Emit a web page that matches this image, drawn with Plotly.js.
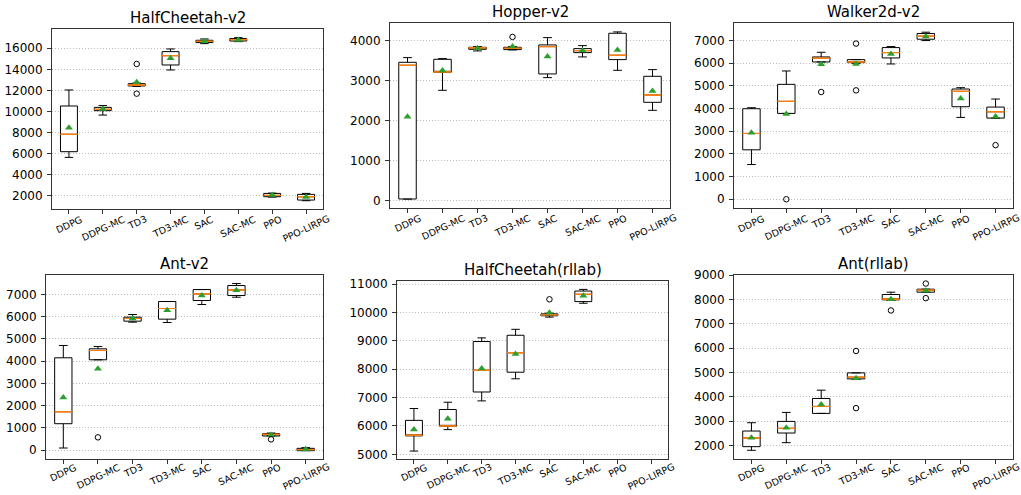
<!DOCTYPE html>
<html><head><meta charset="utf-8">
<script src="https://cdn.plot.ly/plotly-3.0.1.min.js"></script>
<style>html,body{margin:0;padding:0;background:#fff}#chart{width:1021px;height:495px}</style>
</head><body><div id="chart"></div>
<script>
const categories = ['DDPG', 'DDPG-MC', 'TD3', 'TD3-MC', 'SAC', 'SAC-MC', 'PPO', 'PPO-LIRPG'];
const titles = ['HalfCheetah-v2', 'Hopper-v2', 'Walker2d-v2', 'Ant-v2', 'HalfCheetah(rllab)', 'Ant(rllab)'];

// HalfCheetah-v2
const hcv2_lower  = [5640, 9660, 12380, 13940, 16440, 16630, 1870, 1525];
const hcv2_q1     = [6180, 10075, 12420, 14415, 16540, 16690, 1905, 1590];
const hcv2_median = [7830, 10200, 12510, 15300, 16660, 16820, 2030, 1905];
const hcv2_q3     = [10520, 10390, 12640, 15680, 16760, 16920, 2220, 2130];
const hcv2_upper  = [12040, 10560, 12700, 15935, 16885, 17010, 2250, 2220];
const hcv2_mean   = [8460, 10230, 12770, 15050, 16660, 16790, 2060, 1870];
const hcv2_out_x  = ['TD3', 'TD3'];
const hcv2_out_y  = [14510, 11690];

// Hopper-v2
const hop_lower  = [40, 2758, 3742, 3767, 3075, 3592, 3258, 2258];
const hop_q1     = [42, 3208, 3783, 3775, 3167, 3700, 3525, 2458];
const hop_median = [3383, 3217, 3817, 3808, 3850, 3750, 3633, 2642];
const hop_q3     = [3458, 3533, 3833, 3833, 3892, 3800, 4183, 3108];
const hop_upper  = [3575, 3550, 3850, 3850, 4075, 3875, 4217, 3275];
const hop_mean   = [2100, 3250, 3808, 3850, 3600, 3750, 3767, 2742];
const hop_out_x  = ['TD3-MC'];
const hop_out_y  = [4092];

// Walker2d-v2
const wk_lower  = [1533, 3787, 6057, 5998, 5968, 7000, 3611, 3581];
const wk_q1     = [2181, 3787, 6057, 6027, 6234, 7059, 4082, 3581];
const wk_median = [2903, 4318, 6219, 6057, 6470, 7192, 4760, 3861];
const wk_q3     = [3994, 5069, 6278, 6160, 6691, 7310, 4863, 4067];
const wk_upper  = [4038, 5659, 6484, 6160, 6735, 7369, 4922, 4421];
const wk_mean   = [2933, 3758, 5954, 5968, 6411, 7177, 4450, 3655];
const wk_out_x  = ['DDPG-MC', 'TD3', 'TD3-MC', 'TD3-MC', 'PPO-LIRPG'];
const wk_out_y  = [0, 4731, 6867, 4804, 2387];

// Ant-v2
const ant_lower  = [90, 4062, 5756, 5741, 6551, 6880, 630, -30];
const ant_q1     = [1184, 4062, 5801, 5891, 6731, 6955, 630, -30];
const ant_median = [1724, 4482, 5921, 6371, 7030, 7210, 705, 15];
const ant_q3     = [4152, 4557, 5981, 6686, 7225, 7405, 735, 75];
const ant_upper  = [4707, 4662, 6101, 6686, 7225, 7495, 765, 105];
const ant_mean   = [2368, 3658, 5921, 6296, 6955, 7195, 675, 30];
const ant_out_x  = ['DDPG-MC', 'PPO'];
const ant_out_y  = [570, 480];

// HalfCheetah(rllab)
const hcr_lower  = [5116, 5872, 6884, 7663, 9837, 10326];
const hcr_q1     = [5651, 5988, 7198, 7895, 9884, 10384];
const hcr_median = [5674, 6000, 7965, 8581, 9919, 10640];
const hcr_q3     = [6198, 6581, 8977, 9198, 9953, 10756];
const hcr_upper  = [6616, 6837, 9105, 9407, 9977, 10814];
const hcr_mean   = [5872, 6256, 8023, 8535, 9988, 10593];
const hcr_out_x  = ['SAC'];
const hcr_out_y  = [10465];

// Ant(rllab)
const antr_lower  = [1795, 2109, 3313, 4707, 7961, 8303];
const antr_q1     = [1945, 2506, 3313, 4734, 7988, 8303];
const antr_median = [2301, 2697, 3600, 4803, 8016, 8385];
const antr_q3     = [2588, 2984, 3928, 4981, 8207, 8426];
const antr_upper  = [2930, 3354, 4270, 4981, 8303, 8426];
const antr_mean   = [2315, 2725, 3682, 4762, 8016, 8357];
const antr_out_x  = ['TD3-MC', 'TD3-MC', 'SAC', 'SAC-MC', 'SAC-MC'];
const antr_out_y  = [5883, 3531, 7551, 8658, 8057];

const W = 1021, H = 495;
const panels = [
  {lower: hcv2_lower, q1: hcv2_q1, median: hcv2_median, q3: hcv2_q3, upper: hcv2_upper, mean: hcv2_mean, ox: hcv2_out_x, oy: hcv2_out_y,
   px: [52, 323], py: [29, 209], range: [740, 17830], dtick: 2000},
  {lower: hop_lower, q1: hop_q1, median: hop_median, q3: hop_q3, upper: hop_upper, mean: hop_mean, ox: hop_out_x, oy: hop_out_y,
   px: [390, 670], py: [23, 208], range: [-183, 4440], dtick: 1000},
  {lower: wk_lower, q1: wk_q1, median: wk_median, q3: wk_q3, upper: wk_upper, mean: wk_mean, ox: wk_out_x, oy: wk_out_y,
   px: [734, 1013], py: [23, 208], range: [-385, 7775], dtick: 1000},
  {lower: ant_lower, q1: ant_q1, median: ant_median, q3: ant_q3, upper: ant_upper, mean: ant_mean, ox: ant_out_x, oy: ant_out_y,
   px: [46, 323], py: [275, 459], range: [-405, 7880], dtick: 1000},
  {lower: hcr_lower, q1: hcr_q1, median: hcr_median, q3: hcr_q3, upper: hcr_upper, mean: hcr_mean, ox: hcr_out_x, oy: hcr_out_y,
   px: [397, 668], py: [281, 459], range: [4836, 11110], dtick: 1000},
  {lower: antr_lower, q1: antr_q1, median: antr_median, q3: antr_q3, upper: antr_upper, mean: antr_mean, ox: antr_out_x, oy: antr_out_y,
   px: [734, 1013], py: [275, 459], range: [1437, 9010], dtick: 1000}
];

const FONT = 'DejaVu Sans, Arial, sans-serif';
const SPINE = '#333333';
const traces = [];
const layout = {
  width: W, height: H,
  margin: {l: 0, r: 0, t: 0, b: 0},
  paper_bgcolor: '#ffffff', plot_bgcolor: '#ffffff',
  showlegend: false, boxmode: 'overlay',
  font: {family: FONT, color: '#000000'},
  annotations: []
};

panels.forEach((p, i) => {
  const s = i === 0 ? '' : String(i + 1);
  const xa = 'x' + s, ya = 'y' + s;
  const xs = categories.slice(0, p.q1.length);
  const domX = [p.px[0] / W, p.px[1] / W];
  const domY = [1 - p.py[1] / H, 1 - p.py[0] / H];
  const bottomRow = i >= 3;

  traces.push({
    type: 'box', x: xs, q1: p.q1, median: p.median, q3: p.q3,
    lowerfence: p.lower, upperfence: p.upper,
    xaxis: xa, yaxis: ya, boxpoints: false, width: 0.5, whiskerwidth: 0.5,
    line: {color: '#000000', width: 1}, fillcolor: '#ffffff', hoverinfo: 'skip'
  });
  traces.push({
    type: 'box', x: xs, q1: p.median, median: p.median, q3: p.median,
    lowerfence: p.median, upperfence: p.median,
    xaxis: xa, yaxis: ya, boxpoints: false, width: 0.5, whiskerwidth: 0,
    line: {color: '#ff7f0e', width: 1}, fillcolor: 'rgba(0,0,0,0)', hoverinfo: 'skip'
  });
  traces.push({
    type: 'scatter', mode: 'markers', x: xs, y: p.mean, xaxis: xa, yaxis: ya,
    marker: {symbol: 'triangle-up', color: '#2ca02c', size: 7, line: {width: 0}}, hoverinfo: 'skip'
  });
  traces.push({
    type: 'scatter', mode: 'markers', x: p.ox, y: p.oy, xaxis: xa, yaxis: ya,
    marker: {symbol: 'circle-open', color: '#000000', size: 5.5, line: {width: 1, color: '#000000'}}, hoverinfo: 'skip'
  });

  layout['xaxis' + s] = {
    domain: domX, anchor: ya, type: 'category', categoryorder: 'array', categoryarray: categories,
    range: [-0.5, 7.5], showticklabels: false, ticks: 'outside', ticklen: 4, tickwidth: 1, tickcolor: SPINE,
    showline: true, mirror: true, linecolor: SPINE, linewidth: 1, showgrid: false, zeroline: false, fixedrange: true
  };
  layout['yaxis' + s] = {
    domain: domY, anchor: xa, range: p.range, tick0: 0, dtick: p.dtick, tickformat: 'd',
    ticks: 'outside', ticklen: 4, tickwidth: 1, tickcolor: SPINE, ticklabelstandoff: 2,
    tickfont: {family: FONT, size: 12, color: '#000'},
    showline: true, mirror: true, linecolor: SPINE, linewidth: 1,
    showgrid: true, gridcolor: '#bdbdbd', griddash: '1px,2px', gridwidth: 1, zeroline: false, fixedrange: true,
    layer: 'below traces'
  };

  layout.annotations.push({
    xref: 'paper', yref: 'paper', x: (domX[0] + domX[1]) / 2, y: domY[1],
    xanchor: 'center', yanchor: 'bottom', yshift: 0, showarrow: false,
    text: titles[i], font: {family: FONT, size: 15, color: '#000'}
  });
  categories.forEach(c => {
    layout.annotations.push({
      xref: xa, yref: 'paper', x: c, y: domY[0], xanchor: 'center', yanchor: 'top',
      yshift: bottomRow ? -1 : -3, textangle: -25, showarrow: false, text: c, borderpad: 0,
      font: {family: FONT, size: 9.5, color: '#000'}
    });
  });
});

Plotly.newPlot('chart', traces, layout, {displayModeBar: false, staticPlot: true});
</script>
</body></html>
